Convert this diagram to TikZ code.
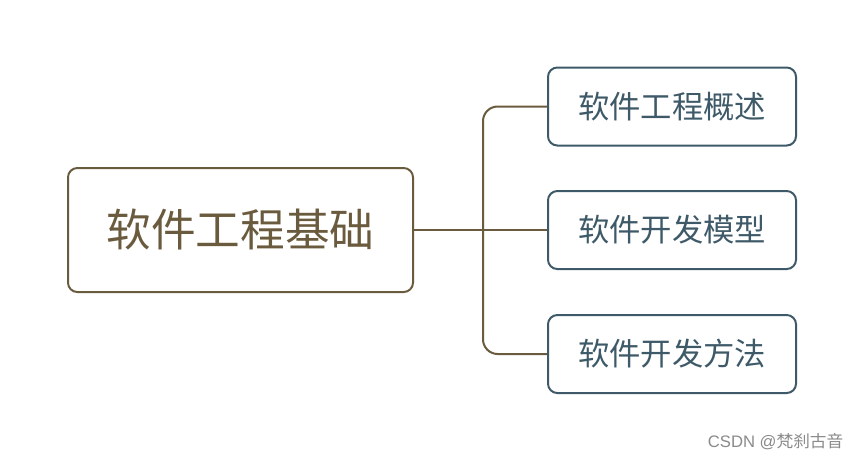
\documentclass[tikz,border=0pt]{standalone}
\usepackage{fontspec}
\setmainfont{Noto Sans CJK SC}
\setsansfont{Liberation Sans}
\usetikzlibrary{positioning}
\definecolor{rootbrown}{HTML}{6B5B3E}
\definecolor{leafslate}{HTML}{3E5A68}
\definecolor{markgray}{HTML}{8A8A8A}
\tikzset{
  rootbox/.style={draw=rootbrown,line width=1.5pt,rounded corners=7pt,
    minimum width=258.75pt,minimum height=93pt,text=rootbrown,
    font=\fontsize{33.5}{36}\selectfont},
  leafbox/.style={draw=leafslate,line width=1.5pt,rounded corners=7pt,
    minimum width=186pt,minimum height=58.5pt,text=leafslate,
    font=\fontsize{23.5}{26}\selectfont},
  conn/.style={draw=rootbrown,line width=1.5pt,rounded corners=11pt}
}
\begin{document}
\begin{tikzpicture}[x=0.75pt,y=-0.75pt]
\useasboundingbox (0,0) rectangle (864,462);
\node[rootbox] (base) at (240.5,230) {软件工程基础};
\node[leafbox] (intro) at (672,106.5) {软件工程概述};
\node[leafbox] (model) at (672,230) {软件开发模型};
\node[leafbox] (method) at (672,354) {软件开发方法};
\coordinate (trunk) at (483,230);
\draw[conn] (intro.west) -| (trunk) |- (method.west);
\draw[conn] (base.east) -- (model.west);
\node[text=markgray,font=\sffamily\fontsize{12.5}{14}\selectfont,anchor=east]
  (mark) at (848,442) {CSDN @{\fontspec{Noto Sans CJK SC}梵刹古音}};
\end{tikzpicture}
\end{document}
